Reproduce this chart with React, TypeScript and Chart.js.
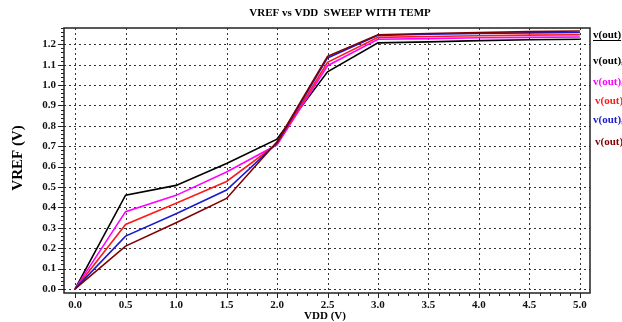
import React, { useEffect, useRef } from "react";
import { Chart, registerables } from "chart.js";

Chart.register(...registerables);

const vdd = [0, 0.5, 1.0, 1.5, 2.0, 2.5, 3.0, 3.5, 4.0, 4.5, 5.0];
const vBlack = [0, 0.46, 0.508, 0.615, 0.735, 1.065, 1.207, 1.212, 1.218, 1.222, 1.225];
const vMagenta = [0, 0.379, 0.459, 0.574, 0.707, 1.095, 1.225, 1.228, 1.232, 1.234, 1.236];
const vRed = [0, 0.316, 0.42, 0.527, 0.711, 1.112, 1.234, 1.238, 1.242, 1.245, 1.247];
const vBlue = [0, 0.259, 0.369, 0.485, 0.716, 1.133, 1.244, 1.249, 1.253, 1.256, 1.258];
const vDarkRed = [0, 0.21, 0.325, 0.444, 0.722, 1.141, 1.247, 1.253, 1.258, 1.262, 1.265];

const xTicks = [0, 0.5, 1.0, 1.5, 2.0, 2.5, 3.0, 3.5, 4.0, 4.5, 5.0];
const yTicks = [0, 0.1, 0.2, 0.3, 0.4, 0.5, 0.6, 0.7, 0.8, 0.9, 1.0, 1.1, 1.2];

const titleText = "VREF vs VDD  SWEEP WITH TEMP";
const xTitle = "VDD (V)";
const yTitle = "VREF (V)";
const legendHeader = "v(out)";
const legendLabels = ["v(out),", "v(out),", "v(out),", "v(out),", "v(out),"];

const colBlack = "#000000";
const colMagenta = "#ff00ff";
const colRed = "#ff1a1a";
const colBlue = "#1a1ad0";
const colDarkRed = "#800000";

const serif = "'Liberation Serif', 'DejaVu Serif', serif";

const decorPlugin = {
  id: "decor",
  beforeDatasetsDraw(chart: any) {
    const { ctx, chartArea, scales } = chart;
    const xs = scales.x;
    const ys = scales.y;
    ctx.save();
    // grid
    ctx.strokeStyle = "#333333";
    ctx.lineWidth = 1;
    ctx.setLineDash([2, 3]);
    ctx.beginPath();
    for (const t of xTicks) {
      const px = Math.round(xs.getPixelForValue(t)) + 0.5;
      ctx.moveTo(px, chartArea.top);
      ctx.lineTo(px, chartArea.bottom);
    }
    for (const t of yTicks) {
      const py = Math.round(ys.getPixelForValue(t)) + 0.5;
      ctx.moveTo(chartArea.left, py);
      ctx.lineTo(chartArea.right, py);
    }
    ctx.stroke();
    ctx.setLineDash([]);
    // minor & major ticks
    ctx.strokeStyle = "#222222";
    ctx.beginPath();
    for (let i = 0; i <= 51; i++) {
      const v = i / 10;
      const px = Math.round(xs.getPixelForValue(v)) + 0.5;
      if (px < chartArea.left || px > chartArea.right) continue;
      const major = i % 5 === 0;
      ctx.moveTo(px, chartArea.bottom);
      ctx.lineTo(px, chartArea.bottom + (major ? 5 : 3));
    }
    for (let i = -1; i <= 64; i++) {
      const v = i / 50;
      const py = Math.round(ys.getPixelForValue(v)) + 0.5;
      if (py < chartArea.top || py > chartArea.bottom) continue;
      const major = i % 5 === 0;
      ctx.moveTo(chartArea.left, py);
      ctx.lineTo(chartArea.left - (major ? 6 : 3), py);
    }
    ctx.stroke();
    ctx.restore();
  },
  afterDatasetsDraw(chart: any) {
    const { ctx, chartArea } = chart;
    ctx.save();
    // frame
    ctx.strokeStyle = "#222222";
    ctx.lineWidth = 1.5;
    ctx.strokeRect(chartArea.left, chartArea.top, chartArea.right - chartArea.left, chartArea.bottom - chartArea.top);
    // title
    ctx.fillStyle = "#000";
    ctx.font = "bold 11px " + serif;
    ctx.textAlign = "center";
    ctx.textBaseline = "middle";
    ctx.fillText(titleText, 340, 13);
    // x title
    ctx.font = "bold 11px " + serif;
    ctx.fillText(xTitle, 325, 316);
    // y title
    ctx.save();
    ctx.translate(18, 158);
    ctx.rotate(-Math.PI / 2);
    ctx.font = "bold 15px " + serif;
    ctx.fillText(yTitle, 0, 0);
    ctx.restore();
    // legend
    ctx.textAlign = "left";
    ctx.font = "bold 11px " + serif;
    ctx.fillStyle = "#000";
    ctx.fillText(legendHeader, 593, 35);
    const w = ctx.measureText(legendHeader).width;
    ctx.lineWidth = 1;
    ctx.strokeStyle = "#000";
    ctx.beginPath();
    ctx.moveTo(593, 40.5);
    ctx.lineTo(593 + w, 40.5);
    ctx.stroke();
    const cols = [colBlack, colMagenta, colRed, colBlue, colDarkRed];
    const ys = [61, 82, 101, 120, 142];
    const xs = [593, 593, 595, 593, 595];
    legendLabels.forEach((l, i) => {
      ctx.fillStyle = cols[i];
      ctx.fillText(l, xs[i], ys[i]);
    });
    ctx.restore();
  },
};

export default function App() {
  const ref = useRef<HTMLCanvasElement | null>(null);
  useEffect(() => {
    document.body.style.margin = "0";
    const mk = (data: number[], color: string) => ({
      data: vdd.map((x, i) => ({ x, y: data[i] })),
      borderColor: color,
      backgroundColor: color,
      borderWidth: 1.6,
      pointRadius: 0,
      tension: 0,
      fill: false,
    });
    const tickFont = { family: serif, size: 11, weight: "bold" as const };
    const chart = new Chart(ref.current!, {
      type: "line",
      data: {
        datasets: [
          mk(vDarkRed, colDarkRed),
          mk(vBlue, colBlue),
          mk(vRed, colRed),
          mk(vMagenta, colMagenta),
          mk(vBlack, colBlack),
        ],
      },
      options: {
        animation: false,
        responsive: false,
        devicePixelRatio: 1,
        layout: { padding: { left: 0, top: 28, right: 32, bottom: 0 } },
        plugins: { legend: { display: false }, title: { display: false }, tooltip: { enabled: false } },
        scales: {
          x: {
            type: "linear",
            min: -0.11,
            max: 5.1,
            grid: { display: false, drawTicks: false },
            border: { display: false },
            afterBuildTicks: (s: any) => {
              s.ticks = xTicks.map((v) => ({ value: v }));
            },
            afterFit: (s: any) => {
              s.height = 29;
            },
            ticks: {
              color: "#111",
              font: tickFont,
              padding: 6,
              maxRotation: 0,
              autoSkip: false,
              callback: (v: any) => Number(v).toFixed(1),
            },
          },
          y: {
            type: "linear",
            min: -0.02,
            max: 1.28,
            grid: { display: false, drawTicks: false },
            border: { display: false },
            afterBuildTicks: (s: any) => {
              s.ticks = yTicks.map((v) => ({ value: v }));
            },
            afterFit: (s: any) => {
              s.width = 64;
            },
            ticks: {
              color: "#111",
              font: tickFont,
              padding: 8,
              autoSkip: false,
              callback: (v: any) => Number(v).toFixed(1),
            },
          },
        },
      },
      plugins: [decorPlugin],
    });
    return () => chart.destroy();
  }, []);
  return <canvas ref={ref} width={622} height={322} style={{ display: "block" }} />;
}
